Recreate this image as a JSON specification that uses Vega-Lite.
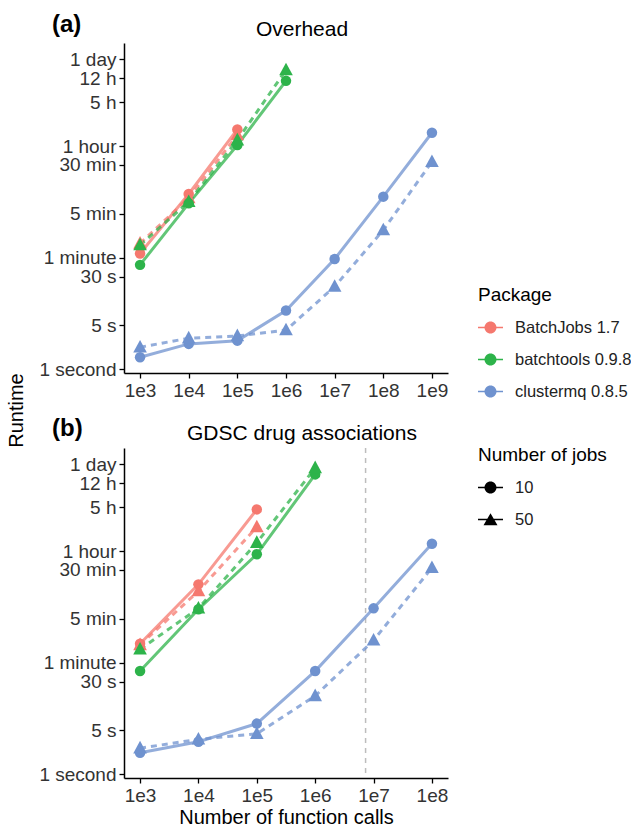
{
  "$schema": "https://vega.github.io/schema/vega-lite/v6.json",
  "padding": {"left": 6, "top": 13, "right": 5, "bottom": 5},
  "config": {
    "font": "Liberation Sans",
    "view": {"stroke": null},
    "axis": {"grid": false, "domainColor": "black", "domainWidth": 1.5, "tickColor": "black", "tickWidth": 1.3, "tickSize": 5, "labelFontSize": 19, "labelColor": "#333333", "labelPadding": 3, "labelOverlap": false, "titleFontSize": 20, "titleFontWeight": "normal", "titleColor": "black"},
    "legend": {"titleFontSize": 19, "titleFontWeight": "normal", "labelFontSize": 16.5, "labelColor": "#222222", "titleColor": "black", "symbolSize": 625, "rowPadding": 11, "titlePadding": 10, "labelOffset": 12},
    "title": {"fontSize": 21, "fontWeight": "normal", "color": "black"}
  },
  "datasets": {
    "d": [
      {"panel": "a", "pkg": "BatchJobs 1.7", "jobs": "10", "calls": 1000, "runtime": 70},
      {"panel": "a", "pkg": "BatchJobs 1.7", "jobs": "10", "calls": 10000, "runtime": 620},
      {"panel": "a", "pkg": "BatchJobs 1.7", "jobs": "10", "calls": 100000, "runtime": 6630},
      {"panel": "a", "pkg": "BatchJobs 1.7", "jobs": "50", "calls": 1000, "runtime": 101},
      {"panel": "a", "pkg": "BatchJobs 1.7", "jobs": "50", "calls": 10000, "runtime": 535},
      {"panel": "a", "pkg": "BatchJobs 1.7", "jobs": "50", "calls": 100000, "runtime": 5400},
      {"panel": "a", "pkg": "batchtools 0.9.8", "jobs": "10", "calls": 1000, "runtime": 46},
      {"panel": "a", "pkg": "batchtools 0.9.8", "jobs": "10", "calls": 10000, "runtime": 440},
      {"panel": "a", "pkg": "batchtools 0.9.8", "jobs": "10", "calls": 100000, "runtime": 3730},
      {"panel": "a", "pkg": "batchtools 0.9.8", "jobs": "10", "calls": 1000000, "runtime": 39400},
      {"panel": "a", "pkg": "batchtools 0.9.8", "jobs": "50", "calls": 1000, "runtime": 95},
      {"panel": "a", "pkg": "batchtools 0.9.8", "jobs": "50", "calls": 10000, "runtime": 466},
      {"panel": "a", "pkg": "batchtools 0.9.8", "jobs": "50", "calls": 100000, "runtime": 4470},
      {"panel": "a", "pkg": "batchtools 0.9.8", "jobs": "50", "calls": 1000000, "runtime": 58600},
      {"panel": "a", "pkg": "clustermq 0.8.5", "jobs": "10", "calls": 1000, "runtime": 1.55},
      {"panel": "a", "pkg": "clustermq 0.8.5", "jobs": "10", "calls": 10000, "runtime": 2.53},
      {"panel": "a", "pkg": "clustermq 0.8.5", "jobs": "10", "calls": 100000, "runtime": 2.85},
      {"panel": "a", "pkg": "clustermq 0.8.5", "jobs": "10", "calls": 1000000, "runtime": 8.6},
      {"panel": "a", "pkg": "clustermq 0.8.5", "jobs": "10", "calls": 10000000, "runtime": 57},
      {"panel": "a", "pkg": "clustermq 0.8.5", "jobs": "10", "calls": 100000000, "runtime": 562},
      {"panel": "a", "pkg": "clustermq 0.8.5", "jobs": "10", "calls": 1000000000, "runtime": 5860},
      {"panel": "a", "pkg": "clustermq 0.8.5", "jobs": "50", "calls": 1000, "runtime": 2.24},
      {"panel": "a", "pkg": "clustermq 0.8.5", "jobs": "50", "calls": 10000, "runtime": 3.12},
      {"panel": "a", "pkg": "clustermq 0.8.5", "jobs": "50", "calls": 100000, "runtime": 3.39},
      {"panel": "a", "pkg": "clustermq 0.8.5", "jobs": "50", "calls": 1000000, "runtime": 4.2},
      {"panel": "a", "pkg": "clustermq 0.8.5", "jobs": "50", "calls": 10000000, "runtime": 20.7},
      {"panel": "a", "pkg": "clustermq 0.8.5", "jobs": "50", "calls": 100000000, "runtime": 165},
      {"panel": "a", "pkg": "clustermq 0.8.5", "jobs": "50", "calls": 1000000000, "runtime": 2020},
      {"panel": "b", "pkg": "BatchJobs 1.7", "jobs": "10", "calls": 1000, "runtime": 120},
      {"panel": "b", "pkg": "BatchJobs 1.7", "jobs": "10", "calls": 10000, "runtime": 1060},
      {"panel": "b", "pkg": "BatchJobs 1.7", "jobs": "10", "calls": 100000, "runtime": 16600},
      {"panel": "b", "pkg": "BatchJobs 1.7", "jobs": "50", "calls": 1000, "runtime": 115},
      {"panel": "b", "pkg": "BatchJobs 1.7", "jobs": "50", "calls": 10000, "runtime": 830},
      {"panel": "b", "pkg": "BatchJobs 1.7", "jobs": "50", "calls": 100000, "runtime": 8700},
      {"panel": "b", "pkg": "batchtools 0.9.8", "jobs": "10", "calls": 1000, "runtime": 44},
      {"panel": "b", "pkg": "batchtools 0.9.8", "jobs": "10", "calls": 10000, "runtime": 425},
      {"panel": "b", "pkg": "batchtools 0.9.8", "jobs": "10", "calls": 100000, "runtime": 3200},
      {"panel": "b", "pkg": "batchtools 0.9.8", "jobs": "10", "calls": 1000000, "runtime": 60000},
      {"panel": "b", "pkg": "batchtools 0.9.8", "jobs": "50", "calls": 1000, "runtime": 98},
      {"panel": "b", "pkg": "batchtools 0.9.8", "jobs": "50", "calls": 10000, "runtime": 440},
      {"panel": "b", "pkg": "batchtools 0.9.8", "jobs": "50", "calls": 100000, "runtime": 4900},
      {"panel": "b", "pkg": "batchtools 0.9.8", "jobs": "50", "calls": 1000000, "runtime": 76000},
      {"panel": "b", "pkg": "clustermq 0.8.5", "jobs": "10", "calls": 1000, "runtime": 2.2},
      {"panel": "b", "pkg": "clustermq 0.8.5", "jobs": "10", "calls": 10000, "runtime": 3.3},
      {"panel": "b", "pkg": "clustermq 0.8.5", "jobs": "10", "calls": 100000, "runtime": 6.4},
      {"panel": "b", "pkg": "clustermq 0.8.5", "jobs": "10", "calls": 1000000, "runtime": 44},
      {"panel": "b", "pkg": "clustermq 0.8.5", "jobs": "10", "calls": 10000000, "runtime": 440},
      {"panel": "b", "pkg": "clustermq 0.8.5", "jobs": "10", "calls": 100000000, "runtime": 4700},
      {"panel": "b", "pkg": "clustermq 0.8.5", "jobs": "50", "calls": 1000, "runtime": 2.6},
      {"panel": "b", "pkg": "clustermq 0.8.5", "jobs": "50", "calls": 10000, "runtime": 3.6},
      {"panel": "b", "pkg": "clustermq 0.8.5", "jobs": "50", "calls": 100000, "runtime": 4.4},
      {"panel": "b", "pkg": "clustermq 0.8.5", "jobs": "50", "calls": 1000000, "runtime": 17.7},
      {"panel": "b", "pkg": "clustermq 0.8.5", "jobs": "50", "calls": 10000000, "runtime": 136},
      {"panel": "b", "pkg": "clustermq 0.8.5", "jobs": "50", "calls": 100000000, "runtime": 1950}
    ]
  },
  "spacing": -34,
  "vconcat": [
    {
      "title": {"text": "(a)", "anchor": "start", "frame": "group", "fontSize": 24, "fontWeight": "bold", "dx": -72, "dy": 22},
      "vconcat": [
        {
          "width": 324, "height": 330,
          "title": {"text": "Overhead", "anchor": "middle", "frame": "group", "offset": 3, "dx": 16},
          "data": {"name": "d"},
          "transform": [{"filter": "datum.panel == 'a'"}],
          "encoding": {
            "x": {"field": "calls", "type": "quantitative", "scale": {"type": "log", "domain": [467.7, 2138000000], "nice": false},
              "axis": {"title": null, "values": [1000, 10000, 100000, 1000000, 10000000, 100000000, 1000000000], "labelExpr": "'1e' + round(log(datum.value)/LN10)"}},
            "y": {"field": "runtime", "type": "quantitative", "scale": {"type": "log", "domain": [0.87, 158000], "nice": false},
              "axis": {"title": "Runtime", "titleX": -98, "titleY": 367, "titleAnchor": "middle", "titleAlign": "center", "values": [1, 5, 30, 60, 300, 1800, 3600, 18000, 43200, 86400],
                "labelExpr": "datum.value == 1 ? '1 second' : datum.value == 5 ? '5 s' : datum.value == 30 ? '30 s' : datum.value == 60 ? '1 minute' : datum.value == 300 ? '5 min' : datum.value == 1800 ? '30 min' : datum.value == 3600 ? '1 hour' : datum.value == 18000 ? '5 h' : datum.value == 43200 ? '12 h' : '1 day'"}},
            "color": {"field": "pkg", "type": "nominal", "title": "Package", "scale": {"domain": ["BatchJobs 1.7", "batchtools 0.9.8", "clustermq 0.8.5"], "range": ["#F5786E", "#2DB34A", "#6F92CF"]},
              "legend": {"orient": "none", "legendX": 354, "legendY": 243, "symbolStrokeWidth": 0, "symbolOpacity": 1,
                "encode": {"symbols": {"update": {"shape": {"value": "M-1,-0.06 L1,-0.06 L1,0.06 L-1,0.06 Z M0.48,0 A0.48,0.48 0 1,1 -0.48,0 A0.48,0.48 0 1,1 0.48,0 Z"}, "strokeWidth": {"value": 0}}}}}}
          },
          "layer": [
            {"transform": [{"filter": "datum.jobs == '10'"}], "mark": {"type": "line", "strokeWidth": 3, "opacity": 0.75}},
            {"transform": [{"filter": "datum.jobs == '50'"}], "mark": {"type": "line", "strokeWidth": 3, "opacity": 0.75, "strokeDash": [6, 5]}},
            {"mark": {"type": "point", "filled": true, "size": 110},
              "encoding": {
                "shape": {"field": "jobs", "type": "nominal", "scale": {"domain": ["10", "50"], "range": ["circle", "M0,-1.4 L1.3,1 L-1.3,1 Z"]}, "legend": null},
                "opacity": {"field": "jobs", "type": "nominal", "title": "Number of jobs", "scale": {"range": [1, 1]},
                  "legend": {"orient": "none", "legendX": 354, "legendY": 403, "symbolFillColor": "black", "symbolStrokeWidth": 0, "symbolOpacity": 1,
                    "encode": {"symbols": {"update": {"fill": {"value": "black"}, "opacity": {"value": 1}, "strokeWidth": {"value": 0}, "size": {"value": 625}, "shape": {"signal": "datum.value == '10' ? 'M-1,-0.06 L1,-0.06 L1,0.06 L-1,0.06 Z M0.48,0 A0.48,0.48 0 1,1 -0.48,0 A0.48,0.48 0 1,1 0.48,0 Z' : 'M-1,-0.06 L1,-0.06 L1,0.06 L-1,0.06 Z M0,-0.5 L0.56,0.45 L-0.56,0.45 Z'"}}}}}}}}
          ]
        }
      ]
    },
    {
      "title": {"text": "(b)", "anchor": "start", "frame": "group", "fontSize": 24, "fontWeight": "bold", "dx": -72, "dy": 22},
      "vconcat": [
        {
          "width": 324, "height": 330,
          "title": {"text": "GDSC drug associations", "anchor": "middle", "frame": "group", "offset": 3, "dx": 16},
          "encoding": {
            "x": {"field": "calls", "type": "quantitative", "scale": {"type": "log", "domain": [530.9, 188400000], "nice": false},
              "axis": {"title": "Number of function calls", "titlePadding": 2, "values": [1000, 10000, 100000, 1000000, 10000000, 100000000], "labelExpr": "'1e' + round(log(datum.value)/LN10)"}},
            "y": {"field": "runtime", "type": "quantitative", "scale": {"type": "log", "domain": [0.87, 158000], "nice": false},
              "axis": {"title": null, "values": [1, 5, 30, 60, 300, 1800, 3600, 18000, 43200, 86400],
                "labelExpr": "datum.value == 1 ? '1 second' : datum.value == 5 ? '5 s' : datum.value == 30 ? '30 s' : datum.value == 60 ? '1 minute' : datum.value == 300 ? '5 min' : datum.value == 1800 ? '30 min' : datum.value == 3600 ? '1 hour' : datum.value == 18000 ? '5 h' : datum.value == 43200 ? '12 h' : '1 day'"}}
          },
          "layer": [
            {"data": {"values": [{"calls": 7300000}]},
              "mark": {"type": "rule", "color": "#BDBDBD", "strokeWidth": 1.5, "strokeDash": [5, 5]},
              "encoding": {"x": {"field": "calls", "type": "quantitative"}, "y": null}},
            {"data": {"name": "d"}, "transform": [{"filter": "datum.panel == 'b' && datum.jobs == '10'"}],
              "mark": {"type": "line", "strokeWidth": 3, "opacity": 0.75},
              "encoding": {"color": {"field": "pkg", "type": "nominal", "title": "Package"}}},
            {"data": {"name": "d"}, "transform": [{"filter": "datum.panel == 'b' && datum.jobs == '50'"}],
              "mark": {"type": "line", "strokeWidth": 3, "opacity": 0.75, "strokeDash": [6, 5]},
              "encoding": {"color": {"field": "pkg", "type": "nominal", "title": "Package"}}},
            {"data": {"name": "d"}, "transform": [{"filter": "datum.panel == 'b'"}],
              "mark": {"type": "point", "filled": true, "size": 110, "opacity": 1},
              "encoding": {"color": {"field": "pkg", "type": "nominal", "title": "Package"}, "shape": {"field": "jobs", "type": "nominal", "legend": null}}}
          ]
        }
      ]
    }
  ]
}
